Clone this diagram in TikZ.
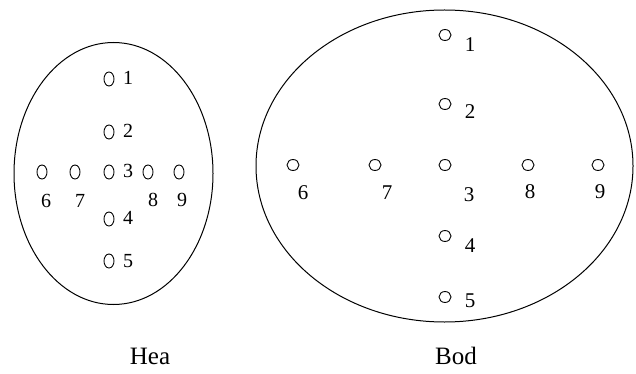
\documentclass[tikz,border=0pt]{standalone}
\usepackage{fontspec}
\setmainfont{Liberation Serif}
\usetikzlibrary{shapes.geometric}
\begin{document}
\begin{tikzpicture}[x=1pt,y=-1pt,
  lo/.style={draw,line width=0.9pt,ellipse,minimum width=10pt,minimum height=14pt,inner sep=0pt},
  ro/.style={draw,line width=0.9pt,ellipse,minimum width=12pt,minimum height=11pt,inner sep=0pt},
  lt/.style={font=\fontsize{20}{20}\selectfont,inner sep=0pt},
  rt/.style={font=\fontsize{21}{21}\selectfont,inner sep=0pt},
  captext/.style={font=\fontsize{25}{25}\selectfont,inner sep=0pt}]
\useasboundingbox (0,0) rectangle (636,374);
\fill[white] (0,0) rectangle (636,374);
% outlines
\draw[line width=1pt] (113.5,173.5) ellipse [x radius=99.5, y radius=131];
\draw[line width=1pt] (444.5,166) ellipse [x radius=188.5, y radius=156];
% left (Hea)
\node[lo] (h1) at (109,79) {};
\node[lo] (h2) at (109,132) {};
\node[lo] (h3) at (109,172) {};
\node[lo] (h4) at (109,219) {};
\node[lo] (h5) at (109,261) {};
\node[lo] (h6) at (42,172) {};
\node[lo] (h7) at (75,172) {};
\node[lo] (h8) at (148,172) {};
\node[lo] (h9) at (179,172) {};
\node[lt] (lh1) at (128,78) {1};
\node[lt] (lh2) at (128,131) {2};
\node[lt] (lh3) at (128,171) {3};
\node[lt] (lh4) at (128,218) {4};
\node[lt] (lh5) at (128,261) {5};
\node[lt] (lh6) at (46,201) {6};
\node[lt] (lh7) at (80,201) {7};
\node[lt] (lh8) at (153,200) {8};
\node[lt] (lh9) at (182,200) {9};
% right (Bod)
\node[ro] (b1) at (445,35) {};
\node[ro] (b2) at (445,104) {};
\node[ro] (b3) at (445,165) {};
\node[ro] (b4) at (445,236) {};
\node[ro] (b5) at (445,297) {};
\node[ro] (b6) at (293,165) {};
\node[ro] (b7) at (375,165) {};
\node[ro] (b8) at (528,165) {};
\node[ro] (b9) at (598,165) {};
\node[rt] (lb1) at (470,45) {1};
\node[rt] (lb2) at (470,112) {2};
\node[rt] (lb3) at (469,195) {3};
\node[rt] (lb4) at (470,246) {4};
\node[rt] (lb5) at (470,301) {5};
\node[rt] (lb6) at (303,193) {6};
\node[rt] (lb7) at (387,193) {7};
\node[rt] (lb8) at (530,192) {8};
\node[rt] (lb9) at (600,192) {9};
% captions
\node[captext] (hea) at (150,356) {Hea};
\node[captext] (bod) at (456,356) {Bod};
\end{tikzpicture}
\end{document}
